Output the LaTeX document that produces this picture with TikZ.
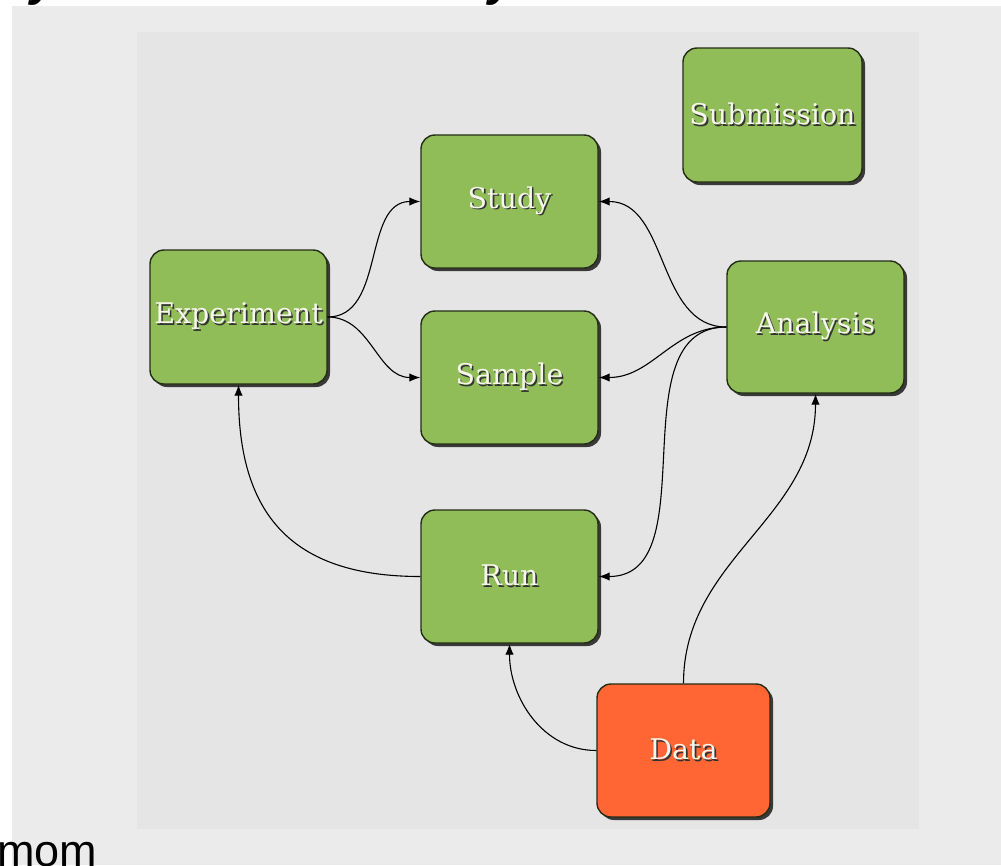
\documentclass[tikz,border=0pt]{standalone}
\usepackage{fontspec}
\setmainfont{DejaVu Serif}
\newfontfamily\sansf{Liberation Sans}
\usetikzlibrary{arrows.meta,shadows}
\definecolor{boxgreen}{RGB}{145,189,89}
\definecolor{boxorange}{RGB}{255,102,51}
\definecolor{outergray}{RGB}{235,235,235}
\definecolor{innergray}{RGB}{229,229,229}
\definecolor{boxline}{RGB}{35,45,20}
\definecolor{txtwhite}{RGB}{246,246,236}
\newcommand\embtxt[1]{\makebox[0pt][l]{\hspace{1.6pt}\raisebox{-1.6pt}{\textcolor{black!80}{#1}}}\textcolor{txtwhite}{#1}}
\begin{document}
\begin{tikzpicture}[x=1pt,y=1pt,
  entity/.style={rectangle, rounded corners=14pt, minimum width=177pt, minimum height=133pt,
    inner sep=0pt, draw=boxline, line width=1.4pt, fill=boxgreen,
    drop shadow={shadow xshift=3pt, shadow yshift=-3pt, fill=black, opacity=0.75},
    font=\fontsize{28.5}{30}\selectfont},
  link/.style={draw=black, line width=1.1pt, -{Latex[length=11pt,width=8.5pt]}},
  frag/.style={anchor=base west, inner sep=0pt, font=\sansf\bfseries\itshape\fontsize{48}{50}\selectfont}]
\useasboundingbox (0,0) rectangle (1001,-865);
\fill[white] (0,0) rectangle (1001,-865);
\fill[outergray] (12,-6) rectangle (1001,-865);
\fill[innergray] (137,-32) rectangle (919,-829);
% cut-off title fragments and footer text (cut off in the reference too)
\node[frag] (fragA) at (30,5) {y};
\node[frag] (fragB) at (488,5) {y};
\node[anchor=base west, inner sep=0pt, font=\sansf\fontsize{45}{50}\selectfont] (mom) at (-3,-866) {mom};
% entities
\node[entity, minimum width=179pt, minimum height=134pt] (submission) at (772.5,-115) {\embtxt{Submission}};
\node[entity] (study) at (509.5,-201.5) {\embtxt{Study}};
\node[entity, minimum height=134pt] (experiment) at (238.5,-317) {\embtxt{Experiment}};
\node[entity] (sample) at (509.5,-377.5) {\embtxt{Sample}};
\node[entity, minimum height=132pt] (analysis) at (815.5,-327) {\embtxt{Analysis}};
\node[entity] (run) at (509.5,-576.5) {\embtxt{Run}};
\node[entity, fill=boxorange, minimum width=173pt] (data) at (683.5,-750.5) {\embtxt{Data}};
% links
\draw[link] (experiment.east) to[out=0,in=180] (study.west);
\draw[link] (experiment.east) to[out=0,in=180] (sample.west);
\draw[link] (analysis.west) to[out=180,in=0] (study.east);
\draw[link] (analysis.west) to[out=180,in=0] (sample.east);
\draw[link] (analysis.west) to[out=180,in=0] (run.east);
\draw[link] (run.west) to[out=180,in=-90,looseness=1.25] (experiment.south);
\draw[link] (data.west) to[out=180,in=-90] (run.south);
\draw[link] (data.north) to[out=90,in=-90] (analysis.south);
\end{tikzpicture}
\end{document}
